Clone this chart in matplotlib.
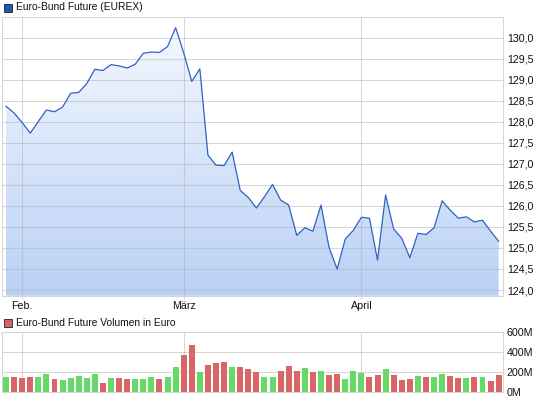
import numpy as np
import matplotlib as mpl
mpl.use('Agg')
import matplotlib.pyplot as plt
from matplotlib.patches import Rectangle, Polygon
from matplotlib.colors import LinearSegmentedColormap
from matplotlib.ticker import FuncFormatter

plt.rcParams['font.family'] = ['Liberation Sans', 'DejaVu Sans']

# daily closing price, one value per trading day
price = [128.37, 128.21, 127.98, 127.73, 128.01, 128.28, 128.24, 128.35, 128.68, 128.70,
         128.91, 129.25, 129.22, 129.36, 129.33, 129.28, 129.37, 129.63, 129.66, 129.65,
         129.79, 130.24, 129.64, 128.96, 129.26, 127.21, 126.97, 126.96, 127.28, 126.37,
         126.20, 125.95, 126.22, 126.51, 126.14, 126.02, 125.30, 125.48, 125.40, 126.02,
         125.01, 124.50, 125.21, 125.42, 125.73, 125.71, 124.71, 126.26, 125.45, 125.23,
         124.77, 125.35, 125.32, 125.48, 126.12, 125.90, 125.71, 125.74, 125.62, 125.66,
         125.40, 125.16]

# volume in million euro
volume = [146, 146, 136, 146, 146, 176, 125, 115, 136, 156,
          136, 176, 85, 136, 136, 125, 125, 125, 146, 125,
          146, 247, 369, 471, 197, 268, 288, 298, 247, 247,
          227, 197, 146, 146, 207, 258, 207, 237, 197, 207,
          166, 176, 125, 207, 186, 146, 166, 227, 166, 115,
          125, 156, 146, 146, 176, 156, 136, 136, 146, 146,
          105, 166]

month_labels = ['Feb.', 'März', 'April']
month_pos = [2, 22, 44]          # trading day index of the month start
price_ticks = [124.0, 124.5, 125.0, 125.5, 126.0, 126.5, 127.0,
               127.5, 128.0, 128.5, 129.0, 129.5, 130.0]
volume_ticks = [0, 200, 400, 600]

W, H = 545, 401
GRID = '#b0b0b0'
FRAME = '#d6d6d6'
LINE = '#2e62c4'
UP, DOWN = '#66d966', '#d96666'
FS = 7.7


def px_box(left, top, right, bottom):
    return [left / W, 1 - bottom / H, (right - left) / W, (bottom - top) / H]


def style_axes(ax):
    for s in ax.spines.values():
        s.set_color(FRAME)
        s.set_linewidth(0.75)
    ax.set_axisbelow('line')
    ax.grid(True, color=GRID, alpha=0.5, linewidth=0.75)
    ax.yaxis.tick_right()
    ax.tick_params(axis='y', length=0, pad=3, labelsize=FS, labelcolor='#111111')
    ax.set_xticks(month_pos)
    ax.set_xlim(-0.5, len(price) - 0.5)


fig = plt.figure(figsize=(W / 100, H / 100), dpi=100)
x = np.arange(len(price))

# price panel
ax1 = fig.add_axes(px_box(2, 16.7, 502.7, 295.7))
ymin, ymax = 123.865, 130.5

cmap = LinearSegmentedColormap.from_list('bund', ['#b9d1f6', '#f6f9fe'])
verts = [(x[0], ymin)] + list(zip(x, price)) + [(x[-1], ymin)]
poly = Polygon(verts, closed=True, facecolor='none', edgecolor='none')
ax1.add_patch(poly)
grad = np.linspace(0, 1, 256).reshape(-1, 1)
im = ax1.imshow(grad, extent=[x[0], x[-1], ymin, ymax], origin='lower',
                aspect='auto', cmap=cmap, zorder=0.2)
im.set_clip_path(poly)
ax1.plot(x, price, color=LINE, linewidth=0.9, zorder=3)

style_axes(ax1)
ax1.set_ylim(ymin, ymax)
ax1.set_yticks(price_ticks)
ax1.yaxis.set_major_formatter(FuncFormatter(lambda v, p: ('%.1f' % v).replace('.', ',')))
ax1.set_xticklabels(month_labels)
ax1.tick_params(axis='x', length=2.2, color=FRAME, pad=1.5, labelsize=FS, labelcolor='#111111')

# volume panel, green if price went up
up = [True] + [price[i] >= price[i - 1] for i in range(1, len(price))]
colors = [UP if u else DOWN for u in up]
ax2 = fig.add_axes(px_box(2, 332.3, 502.7, 391.7))
ax2.bar(x, volume, width=0.74, color=colors, zorder=3)
style_axes(ax2)
ax2.set_ylim(0, 600)
ax2.set_yticks(volume_ticks)
ax2.yaxis.set_major_formatter(FuncFormatter(lambda v, p: '%dM' % v))
ax2.set_xticklabels([])
ax2.tick_params(axis='x', length=0)

# legend boxes
fig.add_artist(Rectangle((3.5 / W, 1 - 11.5 / H), 8 / W, 8 / H, transform=fig.transFigure,
                         facecolor='#1f56b8', edgecolor='#222222', linewidth=0.6))
fig.text(16 / W, 1 - 7.3 / H, 'Euro-Bund Future (EUREX)', fontsize=7.4,
         va='center', ha='left', color='#111111')
fig.add_artist(Rectangle((3.5 / W, 1 - 327 / H), 8 / W, 8 / H, transform=fig.transFigure,
                         facecolor=DOWN, edgecolor='#222222', linewidth=0.6))
fig.text(16 / W, 1 - 323 / H, 'Euro-Bund Future Volumen in Euro', fontsize=7.4,
         va='center', ha='left', color='#111111')

fig.savefig('out.png', dpi=100)
